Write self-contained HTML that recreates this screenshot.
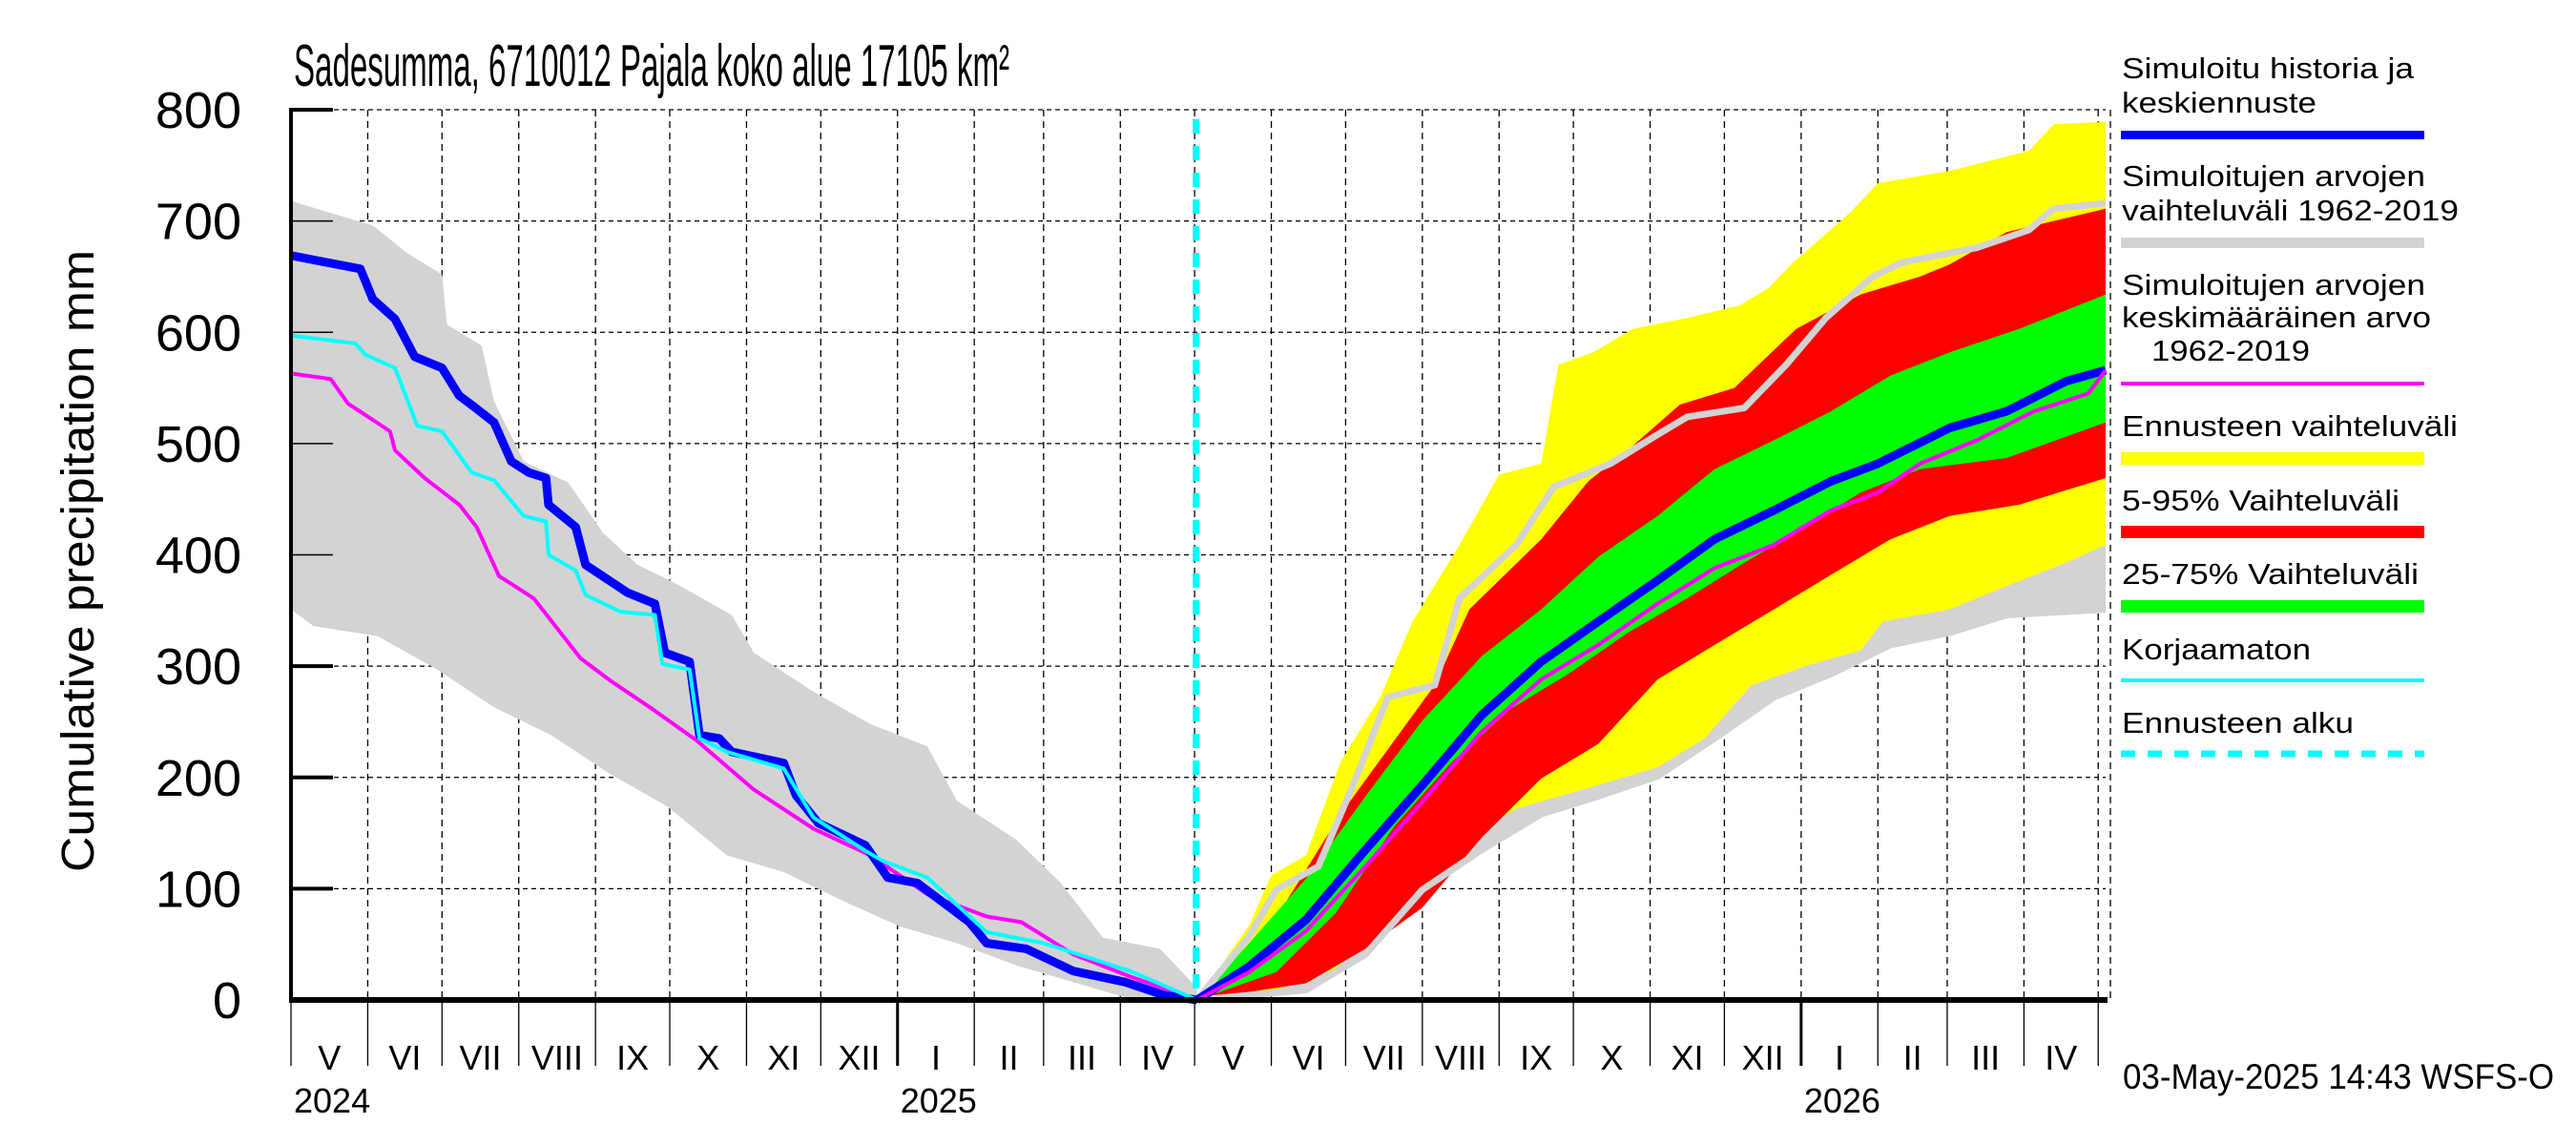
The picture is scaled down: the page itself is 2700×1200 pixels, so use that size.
<!DOCTYPE html>
<html><head><meta charset="utf-8"><style>
html,body{margin:0;padding:0;background:#fff}
svg{display:block}
text{font-family:"Liberation Sans",sans-serif;fill:#000}
</style></head><body>
<svg id="chart" width="2700" height="1200" viewBox="0 0 2700 1200" xmlns="http://www.w3.org/2000/svg">
<g id="grid"></g>
<g id="fills"></g>
<g id="lines"></g>
<g id="axes"></g>
<text x="308" y="90" font-size="62" textLength="750" lengthAdjust="spacingAndGlyphs">Sadesumma, 6710012 Pajala koko alue 17105 km²</text>
<text transform="translate(98,588) rotate(-90)" text-anchor="middle" font-size="48" textLength="652" lengthAdjust="spacingAndGlyphs">Cumulative precipitation   mm</text>
<text x="2225" y="1141" font-size="37" textLength="452" lengthAdjust="spacingAndGlyphs">03-May-2025 14:43 WSFS-O</text>
<g font-size="31">
 <text x="2224" y="82" textLength="306" lengthAdjust="spacingAndGlyphs">Simuloitu historia ja</text>
 <text x="2224" y="118" textLength="204" lengthAdjust="spacingAndGlyphs">keskiennuste</text>
 <rect x="2223" y="137" width="318" height="9" fill="#0000ff"/>
 <text x="2224" y="195" textLength="318" lengthAdjust="spacingAndGlyphs">Simuloitujen arvojen</text>
 <text x="2224" y="231" textLength="353" lengthAdjust="spacingAndGlyphs">vaihteluväli 1962-2019</text>
 <rect x="2223" y="249" width="318" height="11" fill="#d3d3d3"/>
 <text x="2224" y="309" textLength="318" lengthAdjust="spacingAndGlyphs">Simuloitujen arvojen</text>
 <text x="2224" y="343" textLength="324" lengthAdjust="spacingAndGlyphs">keskimääräinen arvo</text>
 <text x="2255" y="378" textLength="166" lengthAdjust="spacingAndGlyphs">1962-2019</text>
 <rect x="2223" y="400" width="318" height="4" fill="#ff00ff"/>
 <text x="2224" y="457" textLength="352" lengthAdjust="spacingAndGlyphs">Ennusteen vaihteluväli</text>
 <rect x="2223" y="474" width="318" height="13" fill="#ffff00"/>
 <text x="2224" y="535" textLength="291" lengthAdjust="spacingAndGlyphs">5-95% Vaihteluväli</text>
 <rect x="2223" y="551" width="318" height="13" fill="#ff0000"/>
 <text x="2224" y="612" textLength="311" lengthAdjust="spacingAndGlyphs">25-75% Vaihteluväli</text>
 <rect x="2223" y="629" width="318" height="13" fill="#00ff00"/>
 <text x="2224" y="691" textLength="198" lengthAdjust="spacingAndGlyphs">Korjaamaton</text>
 <rect x="2223" y="711" width="318" height="4" fill="#00ffff"/>
 <text x="2224" y="768" textLength="243" lengthAdjust="spacingAndGlyphs">Ennusteen alku</text>
 <line x1="2223" y1="790" x2="2541" y2="790" stroke="#00ffff" stroke-width="7" stroke-dasharray="15,13"/>
</g>
</svg>
<script>
// ---- data (day index from 1 May 2024, value mm) ----
const yTicks = [0,100,200,300,400,500,600,700,800];
const monthLabels = ["V","VI","VII","VIII","IX","X","XI","XII","I","II","III","IV","V","VI","VII","VIII","IX","X","XI","XII","I","II","III","IV"];
const monthDays = [31,30,31,31,30,31,30,31,31,28,31,30,31,30,31,31,30,31,30,31,31,28,31,30];
const yearLabels = ["2024","2025","2026"];
const forecastStartDay = 366;

const histDays = [0,28,33,42,50,61,68,74,82,89,96,103,104,115,119,136,147,151,161,165,173,178,199,204,213,232,241,253,274,281,297,316,337,353,366];
const histBlue = [669,657,630,612,578,568,543,533,519,484,474,469,445,425,391,366,356,312,304,238,235,223,213,184,159,139,110,105,70,51,46,26,16,4,0];
const cyanDays = [0,26,30,42,51,61,73,82,94,103,104,115,119,133,147,150,161,165,176,199,211,232,239,257,281,304,339,366];
const cyanVals = [597,590,580,568,516,511,474,467,435,430,400,386,364,349,346,302,297,235,223,208,164,134,125,110,61,51,26,0];
const magHistDays = [0,16,23,40,42,54,68,75,84,98,117,129,145,164,187,211,234,257,281,295,316,339,366];
const magHistVals = [563,558,536,511,494,469,445,425,381,361,307,287,263,233,189,154,130,95,75,70,41,21,0];
const grayHiDays = [0,33,47,61,63,77,82,94,112,126,140,154,178,187,211,234,257,269,293,311,328,351,366];
const grayHiVals = [718,696,671,652,607,588,538,484,465,420,391,376,346,312,277,248,228,179,144,105,56,46,11];
const grayLoDays = [0,9,35,59,82,105,129,152,176,199,222,246,269,293,316,339,366];
const grayLoVals = [351,336,327,297,263,238,203,174,130,115,90,66,51,31,16,1,0];

const fYelHiDays = [366,387,396,410,424,440,453,472,488,505,512,526,542,564,585,597,606,630,641,670,702,712,733];
const fYelHiVals = [0,67,112,130,214,272,340,409,472,482,571,582,603,613,624,640,661,708,734,745,763,787,789];
const fYelLoDays = [366,398,422,453,476,495,528,552,571,590,613,634,643,670,693,717,733];
const fYelLoVals = [0,9,28,104,146,172,193,209,235,283,301,314,340,351,372,393,409];
const fGrayLoDays = [366,410,434,457,481,505,528,552,575,599,622,646,670,693,733];
const fGrayLoVals = [0,9,41,99,135,167,183,201,235,272,293,319,330,346,351];
const fGrayHiDays = [366,387,398,415,429,443,462,472,495,510,533,552,564,587,604,620,639,651,681,702,712,733];
const fGrayHiVals = [0,57,99,120,193,272,283,361,409,461,482,508,524,532,571,613,650,663,676,692,711,716];
const fRedHiDays = [366,387,405,424,443,462,476,505,524,542,561,583,608,634,658,670,693,733];
const fRedHiVals = [0,36,99,167,225,283,351,414,466,498,535,550,603,634,650,661,690,711];
const fRedLoDays = [366,410,434,457,481,505,528,552,575,599,622,646,670,698,733];
const fRedLoVals = [0,15,46,83,146,199,230,288,319,351,382,414,435,445,469];
const fGrnHiDays = [366,387,410,434,457,481,505,528,552,575,599,622,646,670,698,733];
const fGrnHiVals = [0,51,109,183,251,309,351,398,435,477,503,529,561,582,603,634];
const fGrnLoDays = [366,398,422,446,469,493,516,540,564,587,611,634,658,693,733];
const fGrnLoVals = [0,25,78,157,214,262,293,330,361,393,424,456,477,487,519];
const fBlueDays = [366,387,410,434,457,481,505,528,552,575,599,622,641,670,693,717,733];
const fBlueVals = [0,30,72,135,193,256,304,340,377,414,440,466,482,514,529,556,566];
const fMagDays = [366,387,410,434,457,481,505,528,552,575,599,622,641,658,681,704,726,733];
const fMagVals = [0,25,62,120,178,241,288,319,356,388,409,440,456,482,503,529,545,566];

// ---- scales ----
const X0=305, X1=2207, TOTAL=733, Y0=1048, YTOP=115;
const xs = d => X0 + d*(X1-X0)/TOTAL;
const ys = v => Y0 - v*(Y0-YTOP)/800;
const NS="http://www.w3.org/2000/svg";
function mk(tag, parent, attrs){const e=document.createElementNS(NS,tag);for(const k in attrs)e.setAttribute(k,attrs[k]);parent.appendChild(e);return e;}
const grid=document.getElementById('grid'), fills=document.getElementById('fills'), lines=document.getElementById('lines'), axes=document.getElementById('axes');
function pts(D,V){return D.map((d,i)=>xs(d).toFixed(1)+','+ys(V[i]).toFixed(1));}
function band(name, hD,hV,lD,lV,color){
  const p=pts(hD,hV).concat(pts(lD,lV).reverse());
  const e=mk('polygon',fills,{points:p.join(' '),fill:color});
  
  
}
function line(name,D,V,color,w,parent){
  const e=mk('polyline',parent||lines,{points:pts(D,V).join(' '),fill:'none',stroke:color,'stroke-width':w,'stroke-linejoin':'round'});
  
  
}

// grid
yTicks.forEach(v=>{ if(v===0) return;
  const e=mk('line',grid,{x1:X0,x2:X1,y1:ys(v),y2:ys(v),stroke:'#000','stroke-width':1.3,'stroke-dasharray':'5,4'});
  
  
});
let acc=0; const bounds=[0];
monthDays.forEach(n=>{acc+=n;bounds.push(acc);});
bounds.forEach((d,i)=>{ if(d===0) return;
  const e=mk('line',grid,{x1:xs(d),x2:xs(d),y1:YTOP,y2:Y0,stroke:'#000','stroke-width':1.3,'stroke-dasharray':'7,5'});
  
  
});
{const e=mk('line',grid,{x1:X1+5,x2:X1+5,y1:YTOP,y2:Y0,stroke:'#000','stroke-width':1.3,'stroke-dasharray':'7,5'});

}

// bands
band('history-range-band', grayHiDays,grayHiVals,grayLoDays,grayLoVals,'#d3d3d3');
band('forecast-sim-range-band', fGrayHiDays,fGrayHiVals,fGrayLoDays,fGrayLoVals,'#d3d3d3');
band('forecast-range-band', fYelHiDays,fYelHiVals,fYelLoDays,fYelLoVals,'#ffff00');
band('band-5-95', fRedHiDays,fRedHiVals,fRedLoDays,fRedLoVals,'#ff0000');
band('band-25-75', fGrnHiDays,fGrnHiVals,fGrnLoDays,fGrnLoVals,'#00ff00');
line('sim-max-line', fGrayHiDays,fGrayHiVals,'#d3d3d3',7);
line('sim-min-line', fGrayLoDays,fGrayLoVals,'#d3d3d3',7);

// lines
line('mean-history-line', magHistDays,magHistVals,'#ff00ff',4);
line('mean-forecast-line', fMagDays,fMagVals,'#ff00ff',4);
line('history-blue-line', histDays,histBlue,'#0000ff',9);
line('uncorrected-line', cyanDays,cyanVals,'#00ffff',4);
line('forecast-blue-line', fBlueDays,fBlueVals,'#0000ff',9);
line('mean-forecast-line-top', fMagDays,fMagVals,'#ff00ff',4);
{const e=mk('line',lines,{x1:xs(forecastStartDay)-1,x2:xs(forecastStartDay)-1,y1:125,y2:Y0,stroke:'#00ffff','stroke-width':7,'stroke-dasharray':'15,13'});

}

// axes
{const e=mk('line',axes,{x1:X0,x2:X0,y1:YTOP-2,y2:Y0+2,stroke:'#000','stroke-width':4});

}
{const e=mk('line',axes,{x1:X0-2,x2:X1+2,y1:Y0,y2:Y0,stroke:'#000','stroke-width':6});

}
yTicks.forEach(v=>{
  const t=mk('line',axes,{x1:X0,x2:349,y1:ys(v),y2:ys(v),stroke:'#000','stroke-width':(v<=300||v===800)?4:1.5});
  
  
  const lab=mk('text',axes,{x:253,y:ys(v)+19,'text-anchor':'end','font-size':54});
  lab.textContent=String(v);
  
  
});
bounds.forEach((d,i)=>{
  const isYear=(i===8||i===20);
  const t=mk('line',axes,{x1:xs(d),x2:xs(d),y1:Y0,y2:1117,stroke:'#000','stroke-width':isYear?3:1.3});
  
  
  if(i<monthLabels.length){
    const cx=(xs(d)+xs(bounds[i+1]))/2;
    const lab=mk('text',axes,{x:cx,y:1121,'text-anchor':'middle','font-size':36});
    lab.textContent=monthLabels[i];
    
    
  }
});
[0,8,20].forEach((bi,k)=>{
  const lab=mk('text',axes,{x:xs(bounds[bi])+3,y:1166,'font-size':36});
  lab.textContent=yearLabels[k];
  
  
});
</script>
</body></html>
